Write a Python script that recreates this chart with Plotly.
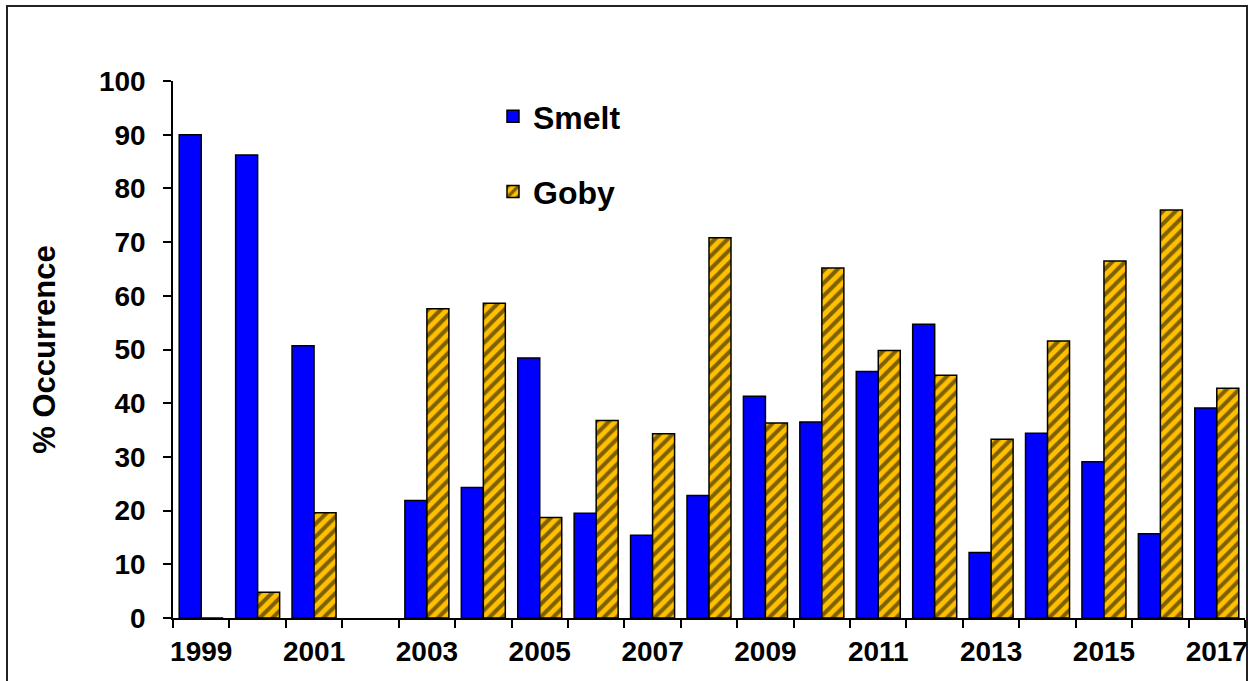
import plotly.graph_objects as go

years = list(range(1999, 2018))
smelt = [90.0, 86.2, 50.7, None, 21.9, 24.3, 48.4, 19.5, 15.4, 22.8, 41.3, 36.5,
         45.9, 54.7, 12.2, 34.4, 29.1, 15.7, 39.1]
goby = [0, 4.8, 19.6, None, 57.6, 58.6, 18.7, 36.8, 34.3, 70.8, 36.3, 65.2,
        49.8, 45.2, 33.3, 51.6, 66.5, 76.0, 42.8]
tick_years = [y for y in years if y % 2 == 1]
boundaries = [y - 0.5 for y in years] + [years[-1] + 0.5]

FONT = "Arial, Liberation Sans, sans-serif"

fig = go.Figure()
fig.add_trace(go.Bar(
    x=years, y=smelt, name="Smelt", legend="legend", showlegend=True,
    marker=dict(color="#0000FF", line=dict(color="black", width=1.5)),
))
fig.add_trace(go.Bar(
    x=years, y=goby, name="Goby", legend="legend2", showlegend=True,
    marker=dict(color="#FFC000", line=dict(color="black", width=1.5),
                pattern=dict(shape="/", fgcolor="black", bgcolor="#FFC000",
                             size=9, solidity=0.45)),
))

legend_font = dict(size=32, family=FONT, color="black", weight="bold")
fig.update_layout(
    width=1248, height=681,
    margin=dict(l=173, r=3, t=81, b=63),
    paper_bgcolor="white", plot_bgcolor="white",
    barmode="group", bargap=0.22, bargroupgap=0,
    showlegend=True,
    font=dict(family=FONT, color="black"),
    legend=dict(x=0.2985, y=0.985, xanchor="left", yanchor="top",
                font=legend_font, bgcolor="rgba(0,0,0,0)"),
    legend2=dict(x=0.2985, y=0.845, xanchor="left", yanchor="top",
                 font=legend_font, bgcolor="rgba(0,0,0,0)"),
    xaxis=dict(
        range=[1998.5, 2017.5], tickmode="array", tickvals=tick_years,
        ticktext=[str(y) for y in tick_years], ticks="",
        showline=True, linecolor="black", linewidth=1.5, showgrid=False,
        zeroline=False, automargin=False, ticklabelstandoff=8,
        tickfont=dict(size=28, family=FONT, color="black", weight="bold"),
        minor=dict(tickmode="array", tickvals=boundaries, ticks="outside",
                   ticklen=8, tickwidth=1.5, tickcolor="black", showgrid=False),
    ),
    yaxis=dict(
        range=[0, 100], dtick=10, ticks="outside", ticklen=8, tickwidth=1.5,
        tickcolor="black", showline=True, linecolor="black", linewidth=1.5,
        showgrid=False, zeroline=False, ticklabelstandoff=12, automargin=False,
        tickfont=dict(size=28, family=FONT, color="black", weight="bold"),
        title=dict(text="% Occurrence", standoff=34,
                   font=dict(size=31, family=FONT, color="black", weight="bold")),
    ),
    shapes=[dict(type="rect", xref="paper", yref="paper",
                 x0=(7 - 173) / 1072, x1=(1247 - 173) / 1072,
                 y0=(618 - 700) / 537, y1=(618 - 6) / 537,
                 line=dict(color="#222222", width=2), layer="below")],
)

fig.write_html("out.html", config={"displayModeBar": False},
               post_script="document.body.style.margin='0';document.body.style.overflow='hidden';")
